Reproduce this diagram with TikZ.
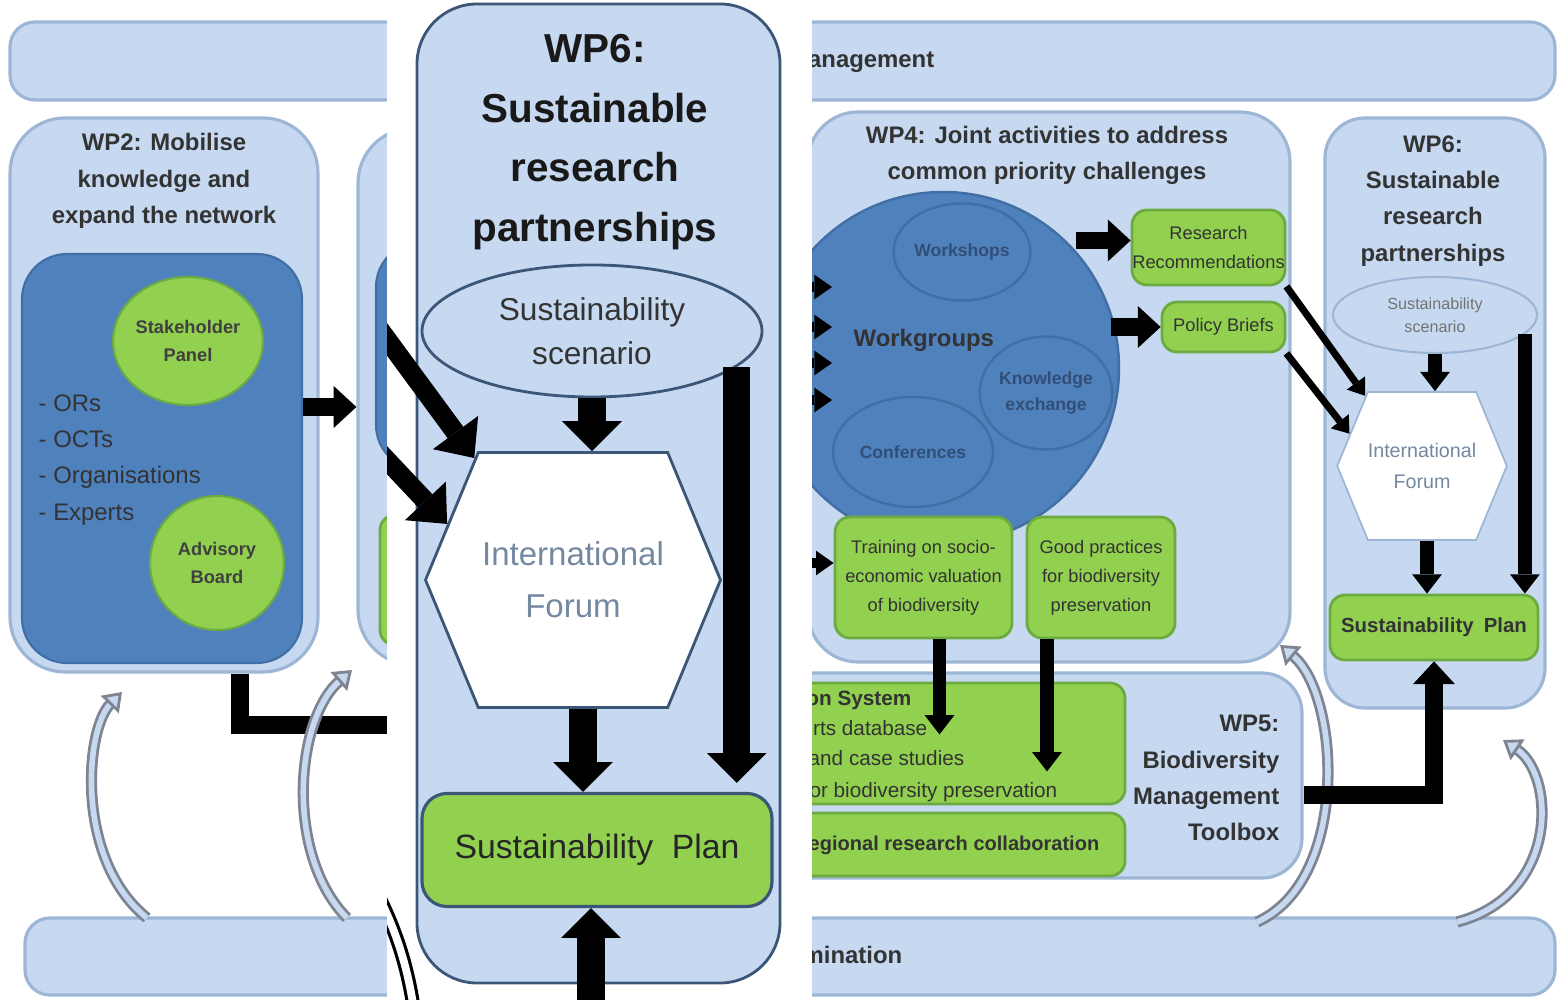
\documentclass[tikz,border=0pt]{standalone}
\usepackage{fontspec}
\setmainfont{Liberation Sans}
\usepackage{tikz}
\usetikzlibrary{arrows,arrows.meta,fit,positioning,shapes.geometric,shapes.symbols}

\definecolor{paleblue}{RGB}{198,217,241}
\definecolor{paleline}{RGB}{158,182,214}
\definecolor{deepblue}{RGB}{79,129,189}
\definecolor{deepline}{RGB}{66,110,166}
\definecolor{deeptext}{RGB}{50,78,118}
\definecolor{leaf}{RGB}{146,208,80}
\definecolor{leafline}{RGB}{108,170,66}
\definecolor{insetline}{RGB}{60,86,120}
\definecolor{forumtext}{RGB}{116,136,160}
\definecolor{tubeline}{RGB}{126,132,144}

\tikzset{
    %Define standard arrow tip
    >=stealth',
    %Define style for boxes
    panel/.style={
           rectangle,
           rounded corners=5mm,
           draw=paleline, line width=0.9pt,
           fill=paleblue,
           inner sep=0pt},
    darkpanel/.style={
           rectangle,
           rounded corners=4.5mm,
           draw=deepline, line width=0.6pt,
           fill=deepblue,
           inner sep=0pt},
    greenbox/.style={
           rectangle,
           rounded corners=1.5mm,
           draw=leafline, line width=0.8pt,
           fill=leaf,
           inner sep=0pt,
           align=center,
           font=\fontsize{5.2}{8.2}\selectfont,
           text=black!80},
    greenblob/.style={
           ellipse,
           draw=leafline, line width=0.6pt,
           fill=leaf,
           inner sep=0pt,
           align=center,
           font=\fontsize{5.2}{8}\selectfont\bfseries,
           text=black!75},
    bubble/.style={
           ellipse,
           draw=deepline, line width=0.7pt,
           fill=deepblue,
           inner sep=0pt,
           align=center,
           font=\fontsize{5}{7.5}\selectfont\bfseries,
           text=deeptext},
    blurtitle/.style={
           align=center,
           inner sep=0pt,
           font=\fontsize{6.8}{10.3}\selectfont\bfseries,
           text=black!80},
    blurtext/.style={
           align=left,
           inner sep=0pt,
           font=\fontsize{6.8}{10.3}\selectfont,
           text=black!80},
    toolline/.style={
           inner sep=0pt,
           font=\fontsize{5.9}{8}\selectfont,
           text=black!80},
    smallscen/.style={
           ellipse,
           draw=paleline, line width=0.6pt,
           fill=paleblue,
           inner sep=0pt,
           align=center,
           font=\fontsize{4.6}{6.4}\selectfont,
           text=black!55},
    %Define style for the inset
    bigpanel/.style={
           rectangle,
           rounded corners=6mm,
           draw=insetline, line width=0.8pt,
           fill=paleblue,
           inner sep=0pt},
    bigtitle/.style={
           align=center,
           inner sep=0pt,
           font=\fontsize{11.5}{17}\selectfont\bfseries,
           text=black!90},
    scenario/.style={
           ellipse,
           draw=insetline, line width=0.8pt,
           fill=paleblue,
           inner sep=0pt,
           align=center,
           font=\fontsize{9}{12.5}\selectfont,
           text=black!80},
    forum/.style={
           signal, signal to=west and east, signal pointer angle=135,
           draw=insetline, line width=0.8pt,
           fill=white,
           inner sep=0pt,
           align=center,
           font=\fontsize{9.4}{14.7}\selectfont,
           text=forumtext},
    plan/.style={
           rectangle,
           rounded corners=2.5mm,
           draw=insetline, line width=0.9pt,
           fill=leaf,
           inner sep=0pt,
           font=\fontsize{9.6}{12}\selectfont,
           text=black!85},
    % Define arrow styles
    bigpil/.style={
           -{Triangle[width=17pt,length=8.5pt,line width=0pt]},
           line width=7.8pt},
    diagpil/.style={
           -{Triangle[width=16pt,length=9pt,line width=0pt]},
           line width=5.5pt},
    midpil/.style={
           -{Triangle[width=12pt,length=6.5pt,line width=0pt]},
           line width=5pt},
    smallpil/.style={
           -{Triangle[width=8.5pt,length=5.5pt,line width=0pt]},
           line width=3.8pt},
    tinypil/.style={
           -{Triangle[width=7pt,length=5pt,line width=0pt]},
           line width=3pt},
    thinpil/.style={
           -{Triangle[width=6.5pt,length=4.5pt,line width=0pt]},
           line width=2pt},
    tube/.style={
           -{Triangle[width=7pt,length=5pt,fill=paleblue,color=tubeline]},
           draw=tubeline, line width=0.8pt,
           double=paleblue, double distance=1.6pt}
}

\begin{document}
\begin{tikzpicture}[x=1cm,y=-1cm]
\useasboundingbox (0,0) rectangle (15.59,10);
\fill[white] (0,0) rectangle (15.59,10);

 %bars
\node[panel, rounded corners=2.5mm, fit={(0.10,0.22) (15.55,1.00)}] (mgmt) {};
\node[blurtitle, anchor=east] (mgmttext) at (9.35,0.62) {Management};
\node[panel, rounded corners=2.5mm, fit={(0.25,9.18) (15.55,9.95)}] (diss) {};
\node[blurtitle, anchor=east] (disstext) at (9.03,9.55) {WP7: Dissemination};

 %WP2
\node[panel, rounded corners=5.5mm, fit={(0.10,1.18) (3.18,6.72)}] (wp2) {};
\node[blurtitle] (wp2title) at (1.64,1.81) {WP2: Mobilise\\knowledge and\\expand the network};
\node[darkpanel, fit={(0.22,2.54) (3.02,6.63)}] (wp2inner) {};
\node[greenblob, minimum width=1.50cm, minimum height=1.28cm] (stake) at (1.88,3.41) {Stakeholder\\Panel};
\node[greenblob, minimum size=1.34cm] (board) at (2.17,5.63) {Advisory\\Board};
\node[blurtext, anchor=west] (members) at (0.38,4.60) {- ORs\\- OCTs\\- Organisations\\- Experts};

 %WP3, mostly behind the inset
\node[panel, rounded corners=5.5mm, fit={(3.58,1.28) (8.00,6.65)}] (wp3) {};
\node[darkpanel, fit={(3.76,2.42) (7.80,4.70)}] (wp3inner) {};
\node[greenbox, fit={(3.80,5.15) (7.80,6.45)}] (wp3box) {};

 %WP4
\node[panel, rounded corners=5mm, fit={(8.08,1.12) (12.90,6.62)}] (wp4) {};
\node[blurtitle] (wp4title) at (10.47,1.55) {WP4: Joint activities to address\\common priority challenges};
\node[bubble, minimum size=3.52cm] (workgroups) at (9.43,3.68) {};
\node[bubble, minimum width=1.37cm, minimum height=0.97cm] (workshops) at (9.62,2.52) {Workshops};
\node[bubble, minimum width=1.28cm, minimum height=1.13cm] (exchange) at (10.46,3.93) {Knowledge\\exchange};
\node[bubble, minimum width=1.60cm, minimum height=1.10cm] (conf) at (9.13,4.52) {Conferences};
\node[blurtitle, anchor=west] (wgtext) at (8.53,3.40) {Workgroups};
\node[greenbox, minimum width=1.53cm, minimum height=0.75cm] (resrec) at (12.085,2.475) {Research\\Recommendations};
\node[greenbox, minimum width=1.23cm, minimum height=0.50cm] (briefs) at (12.235,3.27) {Policy Briefs};
\node[greenbox, minimum width=1.77cm, minimum height=1.21cm] (training) at (9.235,5.775) {Training on socio-\\economic valuation\\of biodiversity};
\node[greenbox, minimum width=1.48cm, minimum height=1.21cm] (goodprac) at (11.01,5.775) {Good practices\\for biodiversity\\preservation};

 %WP5
\node[panel, rounded corners=4mm, fit={(4.40,6.73) (13.02,8.78)}] (wp5) {};
\node[greenbox, fit={(4.50,6.83) (11.25,8.04)}] (infosys) {};
\node[greenbox, fit={(4.50,8.13) (11.25,8.76)}] (collab) {};
\node[toolline, font=\fontsize{5.9}{8}\selectfont\bfseries, anchor=east] (ist1) at (9.12,7.00) {Biodiversity Information System};
\node[toolline, anchor=east] (ist2) at (9.28,7.30) {Experts database};
\node[toolline, anchor=east] (ist3) at (9.65,7.60) {Good practices and case studies};
\node[toolline, anchor=east] (ist4) at (10.58,7.92) {Tools for biodiversity preservation};
\node[toolline, font=\fontsize{5.7}{8}\selectfont\bfseries, anchor=east] (colt) at (11.00,8.45) {Regional research collaboration};
\node[blurtitle, align=right, anchor=east] (wp5title) at (12.80,7.78) {WP5:\\Biodiversity\\Management\\Toolbox};

 %WP6
\node[panel, rounded corners=4mm, fit={(13.25,1.18) (15.45,7.08)}] (wp6) {};
\node[blurtitle] (wp6title) at (14.33,2.01) {WP6:\\Sustainable\\research\\partnerships};
\node[smallscen, minimum width=2.04cm, minimum height=0.76cm] (rscen) at (14.35,3.15) {Sustainability\\scenario};
\node[forum, minimum width=1.69cm, minimum height=1.48cm, line width=0.5pt, draw=paleline,
      font=\fontsize{5.6}{8.8}\selectfont] (rforum) at (14.22,4.66) {International\\Forum};
\node[greenbox, minimum width=2.08cm, minimum height=0.65cm, font=\fontsize{5.8}{7}\selectfont\bfseries] (rplan) at (14.34,6.275) {Sustainability\hspace{0.5em}Plan};

 %connectors
\draw[midpil] (wp2inner.east |- 0,4.07) -- (wp3.west |- 0,4.07);
\draw[line width=5pt] (wp2.south -| 2.40,0) |- (wp5.west |- 0,7.25);
\foreach \y in {2.87,3.27,3.63,4.00}
    \draw[tinypil] (wp3.east |- 0,\y) -- (8.32,\y);
\draw[tinypil] (wp3.east |- 0,5.63) -- (training.west |- 0,5.63);
\draw[midpil] ([xshift=-5.5mm,yshift=0.7mm]resrec.west) -- ([yshift=0.7mm]resrec.west);
\draw[midpil] ([xshift=-5mm]briefs.west) -- (briefs.west);
\draw[smallpil] ([xshift=1.6mm]training.south) -- ++(0,0.95);
\draw[smallpil] ([xshift=-5.4mm]goodprac.south) -- ++(0,1.32);
\draw[thinpil] (resrec.south east) -- (rforum.129);
\draw[thinpil] (briefs.south east) -- (rforum.156);
\draw[smallpil] (rscen.south) -- (rscen.south |- rforum.north);
\draw[smallpil] ([xshift=0.5mm]rforum.south) -- ([xshift=0.5mm]rforum.south |- rplan.north);
\draw[smallpil] (rscen.-12) -- (rscen.-12 |- rplan.north);

 %curved arrows
\coordinate (tubeA0) at (1.47,9.18);
\coordinate (tubeA1) at (1.22,6.92);
\coordinate (tubeB0) at (3.47,9.18);
\coordinate (tubeB1) at (3.52,6.70);
\coordinate (tubeC0) at (12.57,9.22);
\coordinate (tubeC1) at (12.80,6.45);
\coordinate (tubeD0) at (14.57,9.22);
\coordinate (tubeD1) at (15.03,7.40);
\draw[tube] (tubeA0) .. controls (0.75,8.60) and (0.85,7.30) .. (tubeA1);
\draw[tube] (tubeB0) .. controls (2.85,8.55) and (2.95,7.20) .. (tubeB1);
\draw[tube] (tubeC0) .. controls (13.50,8.80) and (13.40,6.95) .. (tubeC1);
\draw[tube] (tubeD0) .. controls (15.60,8.95) and (15.55,7.75) .. (tubeD1);
\draw[midpil] (wp5.east |- 0,7.95) -| (rplan.south);

 %inset
\begin{scope}
\clip (3.87,0) rectangle (8.12,10);
\fill[white] (3.87,0) rectangle (8.12,10);
\node[bigpanel, fit={(4.17,0.04) (7.80,9.83)}] (wp6big) {};
\node[bigtitle] (bigtitle) at (5.95,1.42) {WP6:\\Sustainable\\research\\partnerships};
\node[scenario, minimum width=3.40cm, minimum height=1.32cm] (scen) at (5.92,3.31) {Sustainability\\scenario};
\node[forum, minimum width=2.95cm, minimum height=2.55cm] (forum) at (5.73,5.80) {International\\Forum};
\node[plan, minimum width=3.50cm, minimum height=1.13cm] (plan) at (5.97,8.50) {Sustainability\hspace{0.55em}Plan};
\coordinate (inA) at (3.50,2.89);
\coordinate (inB) at (3.50,4.21);
\coordinate (inC) at (5.91,10.20);
\draw[diagpil] (inA) -- (forum.129);
\draw[diagpil] (inB) -- (forum.156);
\draw[bigpil] (scen.south) -- (scen.south |- forum.north);
\draw[bigpil] ([xshift=1mm]forum.south) -- ([xshift=1mm]forum.south |- plan.north);
\draw[bigpil, shorten >=0.9mm] (scen.-14) -- (scen.-14 |- plan.north);
\draw[bigpil] (inC) -- (inC |- plan.south);
\draw[line width=0.9pt, double=white, double distance=2.2pt] (3.78,8.95) .. controls (3.98,9.35) and (4.08,9.70) .. (4.14,10.10);
\end{scope}
\end{tikzpicture}
\end{document}
